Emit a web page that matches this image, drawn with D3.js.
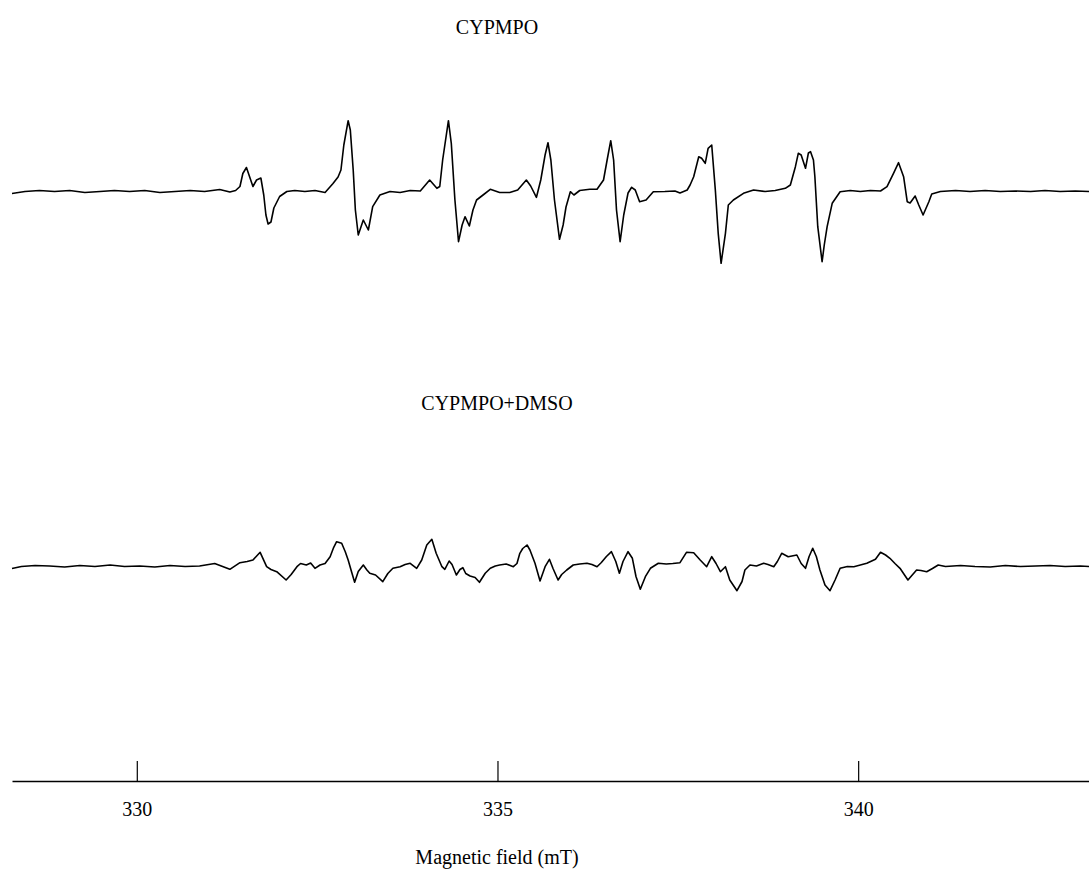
<!DOCTYPE html>
<html>
<head>
<meta charset="utf-8">
<script src="https://cdn.jsdelivr.net/npm/d3@7"></script>
<style>
  html, body { margin: 0; padding: 0; background: #fff; }
  svg { display: block; }
  text { font-family: "Liberation Serif", "Times New Roman", serif; fill: #000; }
</style>
</head>
<body>
<svg id="chart" width="1089" height="872"></svg>
<script>
// Titles and axis text
const titles = ["CYPMPO", "CYPMPO+DMSO"];
const axisTitle = "Magnetic field (mT)";
const tickValues = [330, 335, 340];
const fieldDomain = [328.27, 343.2];

// Spectrum 1: CYPMPO  [field (mT), signal (a.u.)]
const cypmpo = [
  [328.27,-2],[328.45,0],[328.65,1],[328.86,0],[329.07,1],[329.28,-1],[329.49,0],[329.69,1],
  [329.90,0],[330.11,1],[330.32,-1],[330.53,0],[330.74,1],[330.94,0],[331.15,2],[331.29,-0.5],
  [331.37,1],[331.43,5],[331.47,18],[331.52,24],[331.61,5],[331.66,11.5],[331.72,13.5],[331.76,-3.5],
  [331.79,-23.5],[331.82,-32.5],[331.86,-30.5],[331.90,-16.5],[331.98,-5],[332.08,0],[332.19,1],[332.33,0],
  [332.47,1],[332.61,-1],[332.72,8],[332.79,14.5],[332.83,21.5],[332.87,46.5],[332.93,70.8],[332.96,61.5],
  [333.00,21.5],[333.03,-18.5],[333.07,-43.5],[333.14,-28.5],[333.21,-38.5],[333.27,-15.2],[333.37,-3.5],[333.51,0],
  [333.65,-1],[333.79,1],[333.93,0.5],[334.06,11.5],[334.16,3.2],[334.20,5],[334.24,31.5],[334.32,70.8],
  [334.36,48],[334.41,-8.5],[334.46,-50.2],[334.51,-33.5],[334.55,-25.2],[334.61,-34.5],[334.66,-18.5],[334.71,-8.5],
  [334.80,-3.5],[334.90,2.2],[335.03,-1],[335.17,-1],[335.28,1.5],[335.40,11.5],[335.46,5.5],[335.54,-5.8],
  [335.60,11.5],[335.66,36.5],[335.70,48.8],[335.74,31.5],[335.79,-8.5],[335.86,-47.8],[335.91,-33.5],[335.95,-15.5],
  [336.01,-0.2],[336.06,-3.5],[336.14,1],[336.28,2.2],[336.38,2.2],[336.47,11.5],[336.52,31.5],[336.57,50.8],
  [336.61,31.5],[336.65,-18.5],[336.70,-50.2],[336.75,-23.5],[336.81,-1.5],[336.86,4.2],[336.91,1.5],[336.97,-10.2],
  [337.06,-8.5],[337.16,-0.2],[337.32,0],[337.46,0.5],[337.53,-1.5],[337.63,1.5],[337.67,6.5],[337.72,14.8],
  [337.79,34.8],[337.83,33.2],[337.88,28.2],[337.92,43.2],[337.97,46.5],[338.02,1.5],[338.06,-41.8],[338.10,-71.8],
  [338.16,-41.8],[338.20,-13.5],[338.27,-8.5],[338.41,-1.8],[338.55,1.5],[338.71,0],[338.85,1],[338.99,3.2],
  [339.06,6.5],[339.13,24.8],[339.17,38.2],[339.21,36.5],[339.27,23.2],[339.31,38.5],[339.34,39.8],[339.38,31.5],
  [339.40,14.8],[339.44,-35.2],[339.50,-70.2],[339.53,-53.5],[339.57,-35.2],[339.64,-11.8],[339.75,-0.2],[339.89,1],
  [340.03,0],[340.17,1],[340.31,0.5],[340.40,4.8],[340.49,18.2],[340.56,28.8],[340.63,14.8],[340.68,-10.2],
  [340.72,-11.5],[340.79,-4.5],[340.84,-13.5],[340.90,-23.5],[340.98,-10.2],[341.02,-2.5],[341.14,0],[341.35,1],
  [341.55,0],[341.76,1],[341.97,0],[342.18,0.5],[342.39,0],[342.59,1],[342.80,0],[343.01,0.5],[343.20,0]
];

// Spectrum 2: CYPMPO+DMSO  [field (mT), signal (a.u.)]
const cypmpoDmso = [
  [328.27,-2],[328.40,0],[328.59,1],[328.79,0.5],[329.00,-0.5],[329.21,1],[329.42,0],[329.63,1.5],
  [329.83,0],[330.04,0.5],[330.25,-0.5],[330.46,1],[330.67,0],[330.87,0.5],[331.08,3],[331.29,-2.8],
  [331.43,3.8],[331.53,5],[331.61,6.5],[331.71,14.2],[331.80,-0.2],[331.86,-3],[331.94,-5.2],[332.07,-13.5],
  [332.14,-8],[332.22,-0.2],[332.27,3],[332.35,1.5],[332.41,3.5],[332.47,-1.8],[332.54,1.5],[332.61,3],
  [332.68,9.8],[332.73,19.2],[332.77,24.8],[332.84,23.2],[332.89,14.8],[332.93,6.5],[332.98,-6],[333.02,-15.8],
  [333.07,-5],[333.14,1.5],[333.19,-3.5],[333.23,-6.8],[333.31,-8.5],[333.41,-15.2],[333.48,-7],[333.55,-1.8],
  [333.65,-0.2],[333.72,2],[333.79,3.2],[333.88,-1.8],[333.95,6.5],[334.02,21.5],[334.09,27.2],[334.15,13.2],
  [334.23,-0.2],[334.27,-2.8],[334.33,5.5],[334.37,2],[334.43,-8.5],[334.48,-3],[334.52,-1.2],[334.56,-7],
  [334.62,-9.5],[334.69,-11],[334.75,-15.8],[334.83,-6.8],[334.90,-1.8],[334.97,0.5],[335.03,1.5],[335.12,2.5],
  [335.22,-0.2],[335.27,3],[335.31,13.2],[335.35,18],[335.41,21.5],[335.45,16.5],[335.52,3.2],[335.59,-14.5],
  [335.66,-0.2],[335.72,7.2],[335.77,-2],[335.84,-13.5],[335.89,-8],[335.96,-3.5],[336.05,1.5],[336.14,2.5],
  [336.24,3.2],[336.31,2],[336.38,-0.2],[336.44,4],[336.51,10],[336.58,14.8],[336.64,5],[336.69,-6.8],
  [336.74,5],[336.81,14.8],[336.87,8.2],[336.92,-10],[336.98,-22.8],[337.05,-10.2],[337.12,-1.8],[337.23,3.2],
  [337.34,2.5],[337.43,3],[337.53,3.8],[337.62,14.2],[337.72,13.8],[337.81,6.5],[337.90,-0.2],[337.97,9.8],
  [338.03,3],[338.09,-5.2],[338.16,-0.2],[338.22,-13.5],[338.32,-24.2],[338.39,-15],[338.43,-3.5],[338.50,1.5],
  [338.59,0.5],[338.69,3.2],[338.75,2],[338.83,-0.2],[338.88,5],[338.94,13.2],[339.03,9.8],[339.15,11.5],
  [339.21,3],[339.27,-1.8],[339.32,10],[339.37,18.2],[339.42,10],[339.47,-3.5],[339.54,-18.5],[339.61,-24.2],
  [339.68,-13.5],[339.75,-1.8],[339.85,0],[339.94,-0.2],[340.03,1.5],[340.12,3.2],[340.24,7.2],[340.31,14.2],
  [340.38,11.5],[340.44,8.2],[340.51,3],[340.58,-1.8],[340.69,-13.5],[340.75,-8.5],[340.81,-3.5],[340.87,-4],
  [340.95,-5.2],[341.03,-2],[341.11,1.5],[341.21,0],[341.42,1],[341.62,0],[341.83,-0.5],[342.04,1],
  [342.25,0],[342.46,0.5],[342.66,1],[342.87,0],[343.08,0.5],[343.20,0]
];

const svg = d3.select("#chart");

const x = d3.scaleLinear().domain(fieldDomain).range([12, 1089]);
const yTop = d3.scaleLinear().domain([-80, 80]).range([271.5, 111.5]);
const yBot = d3.scaleLinear().domain([-80, 80]).range([646.5, 486.5]);

const lineTop = d3.line().x(d => x(d[0])).y(d => yTop(d[1]));
const lineBot = d3.line().x(d => x(d[0])).y(d => yBot(d[1]));

svg.append("path").datum(cypmpo)
  .attr("d", lineTop).attr("fill", "none").attr("stroke", "#000")
  .attr("stroke-width", 1.6).attr("stroke-linejoin", "round");

svg.append("path").datum(cypmpoDmso)
  .attr("d", lineBot).attr("fill", "none").attr("stroke", "#000")
  .attr("stroke-width", 1.6).attr("stroke-linejoin", "round");

// Titles
svg.append("text").attr("x", 497).attr("y", 34).attr("text-anchor", "middle")
  .style("font-size", "20px").text(titles[0]);
svg.append("text").attr("x", 497).attr("y", 410).attr("text-anchor", "middle")
  .style("font-size", "20px").text(titles[1]);

// Axis
const axis = d3.axisBottom(x).tickValues(tickValues).tickSizeInner(-20).tickSizeOuter(0)
  .tickPadding(21).tickFormat(d3.format("d"));
const g = svg.append("g").attr("transform", "translate(0,781)").call(axis);
g.select(".domain").attr("stroke", "#000").attr("stroke-width", 1.6);
g.selectAll(".tick line").attr("stroke", "#000").attr("stroke-width", 1.2);
g.selectAll(".tick text").style("font-family", "Liberation Serif, serif").style("font-size", "20px").attr("fill", "#000");

svg.append("text").attr("x", 497).attr("y", 864).attr("text-anchor", "middle")
  .style("font-size", "20px").text(axisTitle);
</script>
</body>
</html>
